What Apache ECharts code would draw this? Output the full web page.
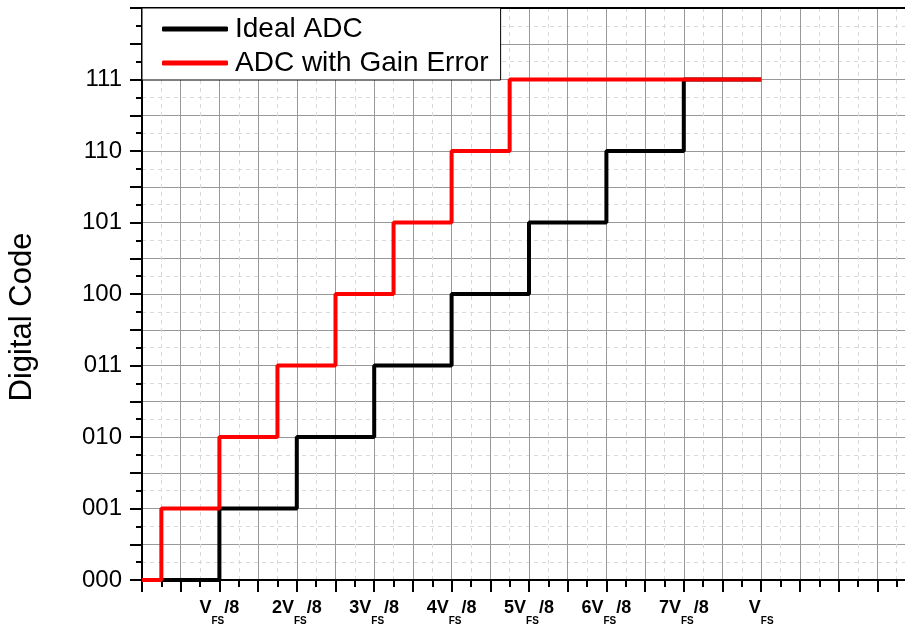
<!DOCTYPE html>
<html>
<head>
<meta charset="utf-8">
<script src="https://cdn.jsdelivr.net/npm/echarts@6/dist/echarts.min.js"></script>
<style>
  html, body { margin: 0; padding: 0; background: #fff; }
  #chart { width: 905px; height: 627px; }
</style>
</head>
<body>
<div id="chart"></div>
<script>
// x in units of V_FS/16, y is the output code
const idealX = [0, 2, 4, 6, 8, 10, 12, 14, 16];
const idealCode = [0, 1, 2, 3, 4, 5, 6, 7, 7];
const gainX = [0, 0.5, 2, 3.5, 5, 6.5, 8, 9.5, 16];
const gainCode = [0, 1, 2, 3, 4, 5, 6, 7, 7];

const codeLabels = ['000', '001', '010', '011', '100', '101', '110', '111'];
const xLabelValues = [2, 4, 6, 8, 10, 12, 14, 16];
const xLabelTexts = [
  '{v|V}{s|FS}{v|/8}',
  '{v|2V}{s|FS}{v|/8}',
  '{v|3V}{s|FS}{v|/8}',
  '{v|4V}{s|FS}{v|/8}',
  '{v|5V}{s|FS}{v|/8}',
  '{v|6V}{s|FS}{v|/8}',
  '{v|7V}{s|FS}{v|/8}',
  '{v|V}{s|FS}'
];

const font = 'Liberation Sans, Arial, sans-serif';
const chart = echarts.init(document.getElementById('chart'));

const zip = (xs, ys) => xs.map((x, i) => [x, ys[i]]);

const option = {
  backgroundColor: '#fff',
  animation: false,
  textStyle: { fontFamily: font },
  grid: { left: 142, top: 8, right: -11, bottom: 47, outerBoundsMode: 'none' },
  legend: {
    left: 142,
    top: 8,
    orient: 'vertical',
    icon: 'roundRect',
    itemWidth: 66,
    itemHeight: 5,
    itemGap: 4,
    padding: [6, 12, 2, 20],
    backgroundColor: '#fff',
    borderColor: '#000',
    borderWidth: 1,
    borderRadius: 0,
    textStyle: { fontFamily: font, fontSize: 28, lineHeight: 30, color: '#000', padding: [0, 0, 0, 2] }
  },
  xAxis: [
    {
      type: 'value',
      min: 0,
      max: 20,
      interval: 1,
      axisLine: { show: true, lineStyle: { color: '#000', width: 2 } },
      axisTick: { show: true, length: 12, lineStyle: { color: '#000', width: 2 } },
      minorTick: { show: true, splitNumber: 2, length: 7, lineStyle: { color: '#000', width: 2 } },
      splitLine: { show: true, lineStyle: { color: '#999', width: 1 } },
      minorSplitLine: { show: true, lineStyle: { color: '#d9d9d9', width: 1, type: [4, 4] } },
      axisLabel: {
        margin: 19,
        hideOverlap: false,
        formatter: (val) => {
          const i = xLabelValues.indexOf(val);
          return i >= 0 ? xLabelTexts[i] : '';
        },
        rich: {
          v: { fontFamily: font, fontSize: 18, fontWeight: 'bold', color: '#000', lineHeight: 27, verticalAlign: 'top' },
          s: { fontFamily: font, fontSize: 10, fontWeight: 'bold', color: '#000', lineHeight: 10, verticalAlign: 'bottom' }
        }
      }
    },
    {
      type: 'value',
      position: 'top',
      min: 0,
      max: 20,
      axisLine: { show: true, onZero: false, lineStyle: { color: '#000', width: 2 } },
      axisTick: { show: false },
      axisLabel: { show: false },
      splitLine: { show: false }
    }
  ],
  yAxis: {
    type: 'value',
    min: 0,
    max: 8,
    interval: 0.5,
    name: 'Digital Code',
    nameLocation: 'middle',
    nameGap: 104,
    nameTextStyle: { fontFamily: font, fontSize: 31, color: '#000', padding: [0, 46, 0, 0] },
    axisLine: { show: true, lineStyle: { color: '#000', width: 2 } },
    axisTick: { show: true, length: 12, lineStyle: { color: '#000', width: 2 } },
    minorTick: { show: true, splitNumber: 2, length: 6, lineStyle: { color: '#000', width: 2 } },
    splitLine: { show: true, lineStyle: { color: '#999', width: 1 } },
    minorSplitLine: { show: true, lineStyle: { color: '#d9d9d9', width: 1, type: [4, 4] } },
    axisLabel: {
      margin: 20,
      fontSize: 24,
      color: '#000',
      fontFamily: font,
      formatter: (val) => (Number.isInteger(val) && val < codeLabels.length ? codeLabels[val] : '')
    }
  },
  series: [
    {
      name: 'Ideal ADC',
      type: 'line',
      step: 'end',
      symbol: 'none',
      data: zip(idealX, idealCode),
      lineStyle: { color: '#000', width: 4 },
      itemStyle: { color: '#000' },
      z: 3
    },
    {
      name: 'ADC with Gain Error',
      type: 'line',
      step: 'end',
      symbol: 'none',
      data: zip(gainX, gainCode),
      lineStyle: { color: '#ff0000', width: 4 },
      itemStyle: { color: '#ff0000' },
      z: 4
    }
  ]
};

chart.setOption(option);
</script>
</body>
</html>
